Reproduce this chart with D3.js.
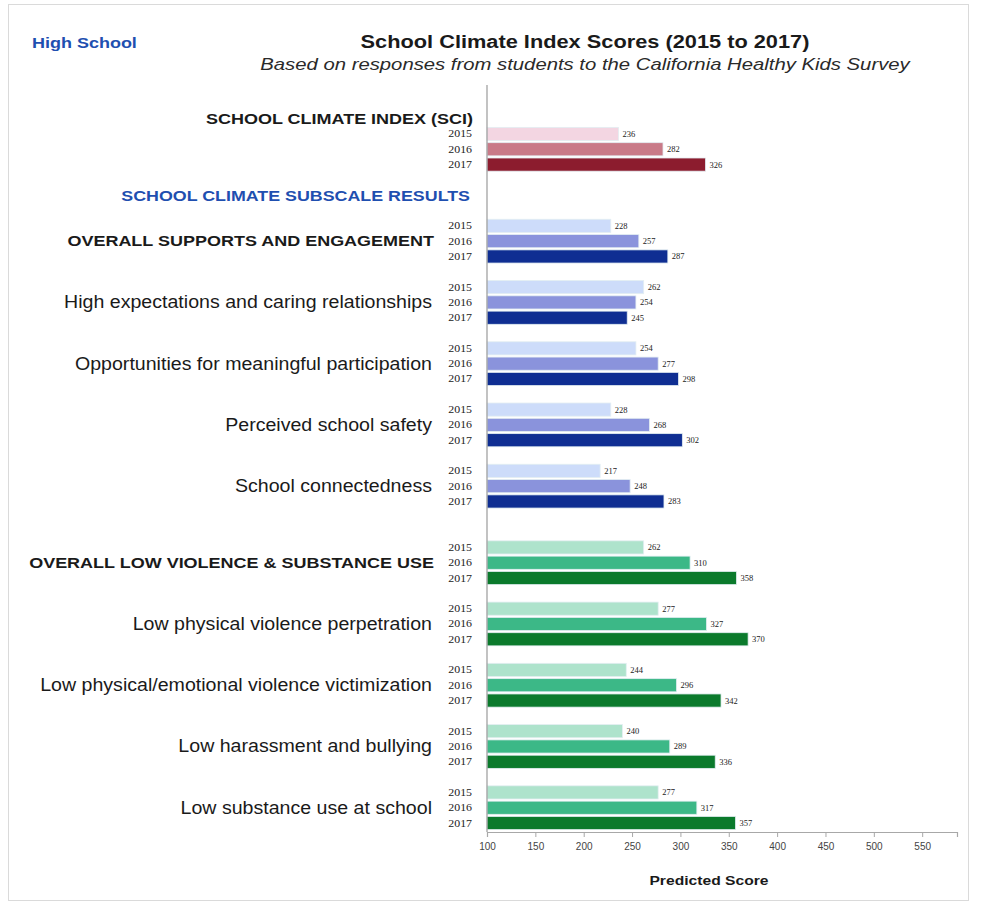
<!DOCTYPE html>
<html>
<head>
<meta charset="utf-8">
<script src="https://cdn.jsdelivr.net/npm/d3@7"></script>
<style>
  html, body { margin: 0; padding: 0; background: #ffffff; }
  svg { display: block; font-family: "Liberation Sans", Arial, sans-serif; }
</style>
</head>
<body>
<svg id="chart" width="995" height="905"></svg>
<script>
// ---------------- DATA ----------------
const categories = [
  "SCHOOL CLIMATE INDEX (SCI)",
  "OVERALL SUPPORTS AND ENGAGEMENT",
  "High expectations and caring relationships",
  "Opportunities for meaningful participation",
  "Perceived school safety",
  "School connectedness",
  "OVERALL LOW VIOLENCE & SUBSTANCE USE",
  "Low physical violence perpetration",
  "Low physical/emotional violence victimization",
  "Low harassment and bullying",
  "Low substance use at school"
];
const sections = ["sci", "support", "support", "support", "support", "support",
                  "violence", "violence", "violence", "violence", "violence"];
const isOverall = [true, true, false, false, false, false, true, false, false, false, false];
const years = ["2015", "2016", "2017"];
const values2015 = [236, 228, 262, 254, 228, 217, 262, 277, 244, 240, 277];
const values2016 = [282, 257, 254, 277, 268, 248, 310, 327, 296, 289, 317];
const values2017 = [326, 287, 245, 298, 302, 283, 358, 370, 342, 336, 357];
const xTicks = [100, 150, 200, 250, 300, 350, 400, 450, 500, 550];

const palette = {
  sci:      ["#f3d6e2", "#c97a88", "#8c1c2e"],
  support:  ["#cddcfa", "#8a93dc", "#0f2e92"],
  violence: ["#aee3cc", "#3cb887", "#0b7a2c"]
};

// ---------------- LAYOUT ----------------
const svg = d3.select("#chart");
const axisX0 = 487, axisX1 = 957;

// slot index for each category: 3 bars + 1 gap, with extra gaps between sections
const slots = [];
let s = 0;
categories.forEach((c, i) => {
  if (i > 0) {
    s += 4;
    if (sections[i] !== sections[i - 1]) s += (sections[i - 1] === "sci") ? 2 : 1;
  }
  slots.push(s);
});
const nSlots = slots[slots.length - 1] + 3;

const x = d3.scaleLinear().domain([100, 586]).range([axisX0, axisX1]);
const y = d3.scaleBand().domain(d3.range(nSlots)).range([126.3, 830.7]).paddingInner(0.14).paddingOuter(0.07);

// helper: horizontally stretched text (the reference type is wide)
function label(px, py, txt, opts) {
  const t = svg.append("text")
    .attr("transform", `translate(${px},${py}) scale(${opts.sx || 1},1)`)
    .attr("x", 0).attr("y", 0)
    .attr("text-anchor", opts.anchor || "start")
    .attr("font-size", opts.size)
    .attr("font-weight", opts.weight || "normal")
    .attr("font-style", opts.style || "normal")
    .attr("fill", opts.fill || "#1a1a1a")
    .text(txt);
  if (opts.family) t.attr("font-family", opts.family);
  return t;
}

// frame
svg.append("rect").attr("x", 8.5).attr("y", 4.5).attr("width", 960).attr("height", 896)
  .attr("fill", "none").attr("stroke", "#dadada").attr("stroke-width", 1);

// titles
label(32, 48, "High School", { size: 15, weight: "bold", fill: "#1f4fb0", sx: 1.2 });
label(585, 48, "School Climate Index Scores (2015 to 2017)", { size: 18, weight: "bold", anchor: "middle", sx: 1.21 });
label(585, 70, "Based on responses from students to the California Healthy Kids Survey",
  { size: 16.5, style: "italic", anchor: "middle", fill: "#2a2a2a", sx: 1.23 });

// bars
const rows = [];
categories.forEach((c, i) => {
  [values2015[i], values2016[i], values2017[i]].forEach((v, k) => {
    rows.push({ cat: i, k, year: years[k], value: v, slot: slots[i] + k, color: palette[sections[i]][k] });
  });
});

const g = svg.append("g");
g.selectAll("rect.bar").data(rows).join("rect").attr("class", "bar")
  .attr("x", x(100)).attr("y", d => y(d.slot))
  .attr("width", d => x(d.value) - x(100)).attr("height", y.bandwidth())
  .attr("fill", d => d.color).attr("stroke", "#e3eef2").attr("stroke-width", 0.8);

g.selectAll("text.val").data(rows).join("text").attr("class", "val")
  .attr("x", d => x(d.value) + 4).attr("y", d => y(d.slot) + y.bandwidth() / 2 + 3)
  .attr("font-size", 8.5).attr("font-family", "'Liberation Serif', serif").attr("fill", "#222")
  .text(d => d.value);

g.selectAll("text.yr").data(rows).join("text").attr("class", "yr")
  .attr("transform", d => `translate(472,${y(d.slot) + y.bandwidth() / 2 + 3.5}) scale(1.25,1)`)
  .attr("text-anchor", "end").attr("font-size", 9.5).attr("font-family", "'Liberation Serif', serif")
  .attr("fill", "#222").text(d => d.year);

// category labels
categories.forEach((c, i) => {
  const mid = y(slots[i] + 1) + y.bandwidth() / 2;
  if (i === 0) {
    label(473, y(slots[i]) - 3, c, { size: 15, weight: "bold", anchor: "end", sx: 1.2 });
  } else if (isOverall[i]) {
    label(434, mid + 5, c, { size: 15, weight: "bold", anchor: "end", sx: 1.2 });
  } else {
    label(432, mid + 6, c, { size: 17.5, anchor: "end", sx: 1.12 });
  }
});

// subscale header
label(470, (y(slots[0] + 2) + y(slots[1])) / 2 + 12, "SCHOOL CLIMATE SUBSCALE RESULTS",
  { size: 15, weight: "bold", anchor: "end", fill: "#1f4fb0", sx: 1.19 });

// axes
svg.append("line").attr("x1", axisX0).attr("x2", axisX0).attr("y1", 85).attr("y2", 832)
  .attr("stroke", "#9a9a9a").attr("stroke-width", 1.2);

const xAxis = d3.axisBottom(x).tickValues(xTicks).tickSize(5).tickPadding(6);
const ax = svg.append("g").attr("transform", "translate(0,832)").call(xAxis);
ax.select(".domain").attr("stroke", "#a8a8a8").attr("stroke-width", 1.2);
ax.selectAll(".tick line").attr("stroke", "#a8a8a8");
ax.selectAll(".tick text").attr("font-size", 10).attr("fill", "#444")
  .attr("font-family", "'Liberation Sans', Arial, sans-serif");

label(709, 885, "Predicted Score", { size: 13.5, weight: "bold", anchor: "middle", sx: 1.16 });
</script>
</body>
</html>
